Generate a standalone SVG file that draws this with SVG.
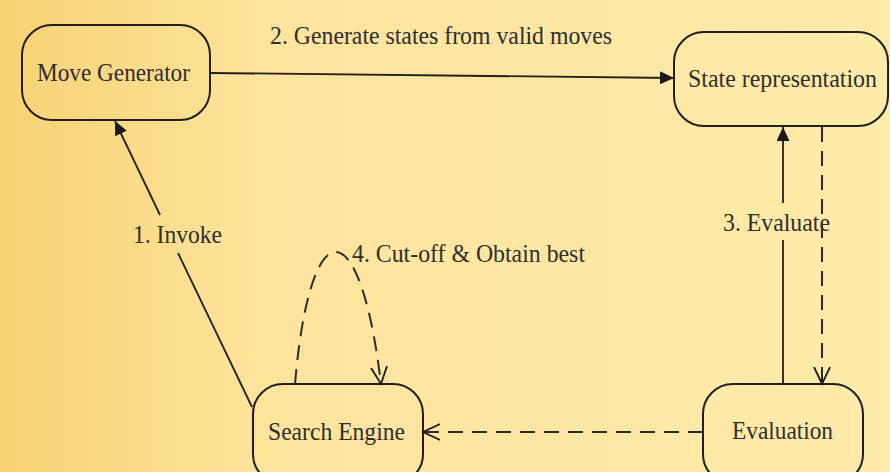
<svg xmlns="http://www.w3.org/2000/svg" width="890" height="472" viewBox="0 0 890 472">
<defs>
<linearGradient id="bg" x1="0" y1="0" x2="1" y2="0">
<stop offset="0" stop-color="#F8D274"/>
<stop offset="0.3" stop-color="#FDE49D"/>
<stop offset="1" stop-color="#FFEBAA"/>
</linearGradient>
<marker id="fill" markerUnits="userSpaceOnUse" markerWidth="15" markerHeight="13" refX="14" refY="6.5" orient="auto">
<path d="M0,0 L14,6.5 L0,13 z" fill="#1a1a1a"/>
</marker>
<marker id="open" markerUnits="userSpaceOnUse" markerWidth="20" markerHeight="20" refX="17" refY="9" orient="auto">
<path d="M0,1 L17,9 L0,17" fill="none" stroke="#1a1a1a" stroke-width="1.8"/>
</marker>
</defs>
<style>
.box{fill:none;stroke:#1f1f1f;stroke-width:2}
.t{font-family:"Liberation Serif","Times New Roman",serif;font-size:22px;fill:#2e2e2e}
.ln{fill:none;stroke:#1f1f1f;stroke-width:1.8}
.dash{fill:none;stroke:#2a2a2a;stroke-width:2;stroke-dasharray:15 9}
</style>
<rect x="0" y="0" width="890" height="472" fill="url(#bg)"/>
<g id="move-generator">
<rect class="box" x="22" y="25" width="188" height="95" rx="30"/>
<text class="t" transform="translate(37,81) scale(1,1.15)" textLength="153" lengthAdjust="spacingAndGlyphs">Move Generator</text>
</g>
<g id="state-representation">
<rect class="box" x="674" y="32" width="214" height="94" rx="30"/>
<text class="t" transform="translate(688,87) scale(1,1.15)" textLength="189" lengthAdjust="spacingAndGlyphs">State representation</text>
</g>
<g id="search-engine">
<rect class="box" x="253" y="384" width="170" height="100" rx="30"/>
<text class="t" transform="translate(268,440) scale(1,1.15)" textLength="137" lengthAdjust="spacingAndGlyphs">Search Engine</text>
</g>
<g id="evaluation">
<rect class="box" x="703" y="384" width="160" height="100" rx="30"/>
<text class="t" transform="translate(732,439) scale(1,1.15)" textLength="101" lengthAdjust="spacingAndGlyphs">Evaluation</text>
</g>
<g id="connectors">
<line class="ln" x1="210" y1="73" x2="674" y2="78" marker-end="url(#fill)"/>
<line class="ln" x1="252" y1="407" x2="178" y2="253"/>
<line class="ln" x1="160" y1="215" x2="115" y2="121" marker-end="url(#fill)"/>
<line class="ln" x1="783" y1="384" x2="783" y2="240"/>
<line class="ln" x1="783" y1="203" x2="783" y2="127" marker-end="url(#fill)"/>
<line class="dash" x1="822" y1="127" x2="822" y2="384" marker-end="url(#open)"/>
<line class="dash" x1="703" y1="432" x2="423" y2="432" marker-end="url(#open)"/>
<path class="dash" d="M295,384 C310,208 360,208 381,384" marker-end="url(#open)"/>
<text class="t" transform="translate(270,44) scale(1,1.15)" textLength="342" lengthAdjust="spacingAndGlyphs">2. Generate states from valid moves</text>
<text class="t" transform="translate(133,243) scale(1,1.15)" textLength="89" lengthAdjust="spacingAndGlyphs">1. Invoke</text>
<text class="t" transform="translate(723,231) scale(1,1.15)" textLength="107" lengthAdjust="spacingAndGlyphs">3. Evaluate</text>
<text class="t" transform="translate(352,262) scale(1,1.15)" textLength="233" lengthAdjust="spacingAndGlyphs">4. Cut-off &amp; Obtain best</text>
</g>
</svg>
